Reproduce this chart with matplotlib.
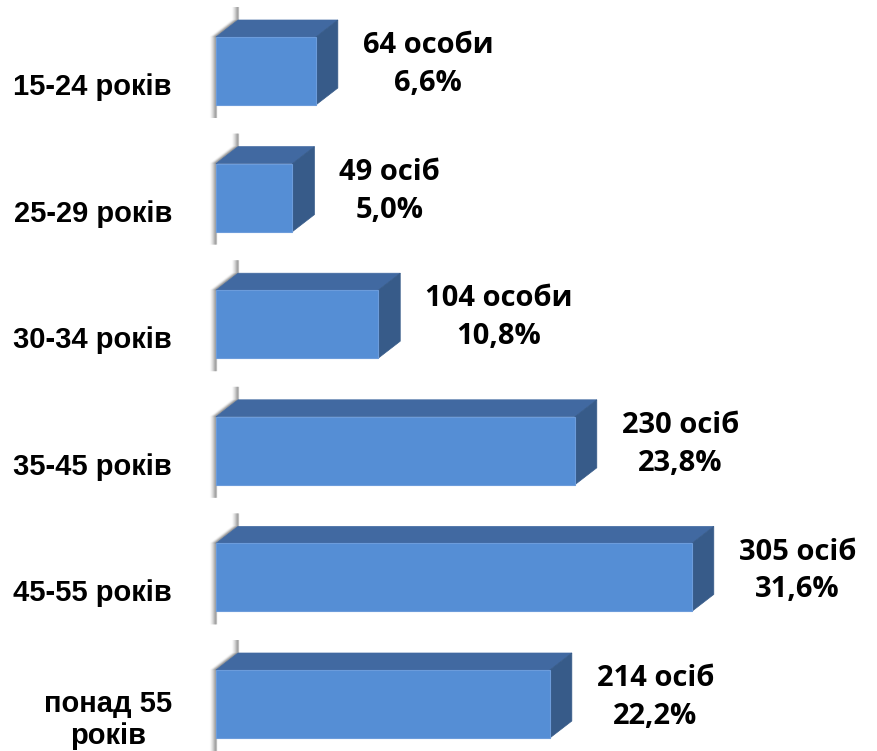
import matplotlib
matplotlib.use("Agg")
import matplotlib.pyplot as plt
from matplotlib.patches import Polygon

# дані
categories = ["15-24 років", "25-29 років", "30-34 років", "35-45 років",
              "45-55 років", "понад 55\nроків"]
counts = [64, 49, 104, 230, 305, 214]
words = ["особи", "осіб", "особи", "осіб", "осіб", "осіб"]
percents = ["6,6%", "5,0%", "10,8%", "23,8%", "31,6%", "22,2%"]

W, H = 877, 751
px_x = 1.56      # пікселів на одну особу
band = 126.6     # пікселів на категорію
x0 = 216         # піксель нуля
y0 = 71          # центр першого бару

fig = plt.figure(figsize=(W / 100, H / 100), dpi=100)
ax = fig.add_axes([0, 0, 1, 1])
ax.set_xlim(-x0 / px_x, (W - x0) / px_x)
ax.set_ylim((H - y0) / band, -y0 / band)
ax.axis("off")

h = 68 / band
dx = 22 / px_x
dy = 17 / band
ext = 13 / band

front_c = "#558ED5"
top_c = "#4169A1"
side_c = "#375B89"

for i, (cat, n, w, p) in enumerate(zip(categories, counts, words, percents)):
    top = i - h / 2
    bot = i + h / 2

    # стінка з тінню
    xs = [dx, dx, 0, 0]
    ys = [top - dy - ext, top - dy, top, bot + ext]
    for k, a in enumerate([0.5, 0.38, 0.26, 0.16, 0.09, 0.04]):
        ax.plot([x - k / px_x for x in xs], ys, color="#7f7f7f", lw=1.6,
                alpha=a, solid_capstyle="butt", zorder=1)

    ax.add_patch(Polygon([(0, top), (n, top), (n + dx, top - dy), (dx, top - dy)],
                         closed=True, fc=top_c, ec=top_c, lw=0.5, zorder=2))
    ax.add_patch(Polygon([(n, top), (n + dx, top - dy), (n + dx, bot - dy), (n, bot)],
                         closed=True, fc=side_c, ec=side_c, lw=0.5, zorder=2))
    ax.add_patch(Polygon([(0, top), (n, top), (n, bot), (0, bot)],
                         closed=True, fc=front_c, ec="#6C9CDB", lw=0.8, zorder=3))

    ax.text(-44 / px_x, i + 16 / band, cat, ha="right", va="center",
            multialignment="center", fontsize=21, fontweight="bold",
            family=["Liberation Sans", "DejaVu Sans"], linespacing=1.15)

    ax.text(n + 47 / px_x, i - 0.05, f"{n} {w}\n{p}", ha="left", va="center",
            multialignment="center", fontsize=21, fontweight="bold",
            family=["Open Sans", "Liberation Sans", "DejaVu Sans"], linespacing=1.4)

fig.savefig("out.png", dpi=100)
